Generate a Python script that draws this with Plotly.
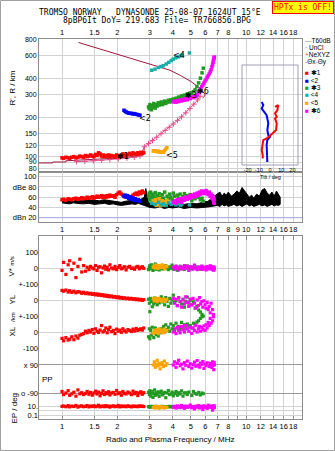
import numpy as np
import plotly.graph_objects as go

# ---------------- data ----------------
freq_ticks = [1, 1.5, 2, 3, 4, 5, 6, 7, 8, 9, 10, 12, 14, 16, 18]
freq_labels_top = ["1", "1.5", "2", "3", "4", "5", "6", "7", "8", "", "10", "12", "14", "16", "18"]
freq_labels_mid = ["1", "1.5", "2", "3", "4", "5", "6", "7", "8", "9", "10", "12", "14", "16", "18"]
height_ticks = [80, 90, 100, 120, 150, 200, 300, 400, 600, 800]
amp_ticks = [20, 40, 60, 80, 100]
amp_labels = ["dBn 20", "40", "60", "dBe 80", "100"]
tilt_ticks = [-20, -10, 0, 10, 20]

# profile lines (MHz, km)
prof_top_f = [1.23, 1.61, 2.0, 2.44, 2.9, 3.27, 3.86, 4.4, 5.0, 5.4, 5.74, 5.98, 5.95, 5.8]
prof_top_h = [755, 672, 615, 562, 520, 495, 461, 420, 378, 348, 323, 300, 290, 282]
prof_low_f = [0.75, 0.89, 0.89, 1.05, 1.05, 1.5, 2.0, 2.5, 2.77, 2.8]
prof_low_h = [88.5, 88.5, 90, 90, 92, 94, 96.5, 99.5, 102, 118]
nexyz_f = [1.20, 1.33, 1.48, 1.64, 1.82, 2.02, 2.25, 2.47, 2.65, 2.80, 2.95, 3.10, 3.27, 3.45,
           3.63, 3.82, 4.02, 4.24, 4.46, 4.70, 4.95, 5.20, 5.45, 5.62]
nexyz_h = [90.5, 91, 92, 93, 94, 95, 96.5, 98, 100, 118, 125, 132, 140, 149,
           158, 167, 177, 189, 201, 216, 233, 252, 272, 290]

# echo group 1 (red)
f_red = [1.00, 1.02, 1.05, 1.08, 1.10, 1.13, 1.16, 1.19, 1.22, 1.25, 1.28, 1.31, 1.34, 1.37, 1.40, 1.43,
         1.46, 1.49, 1.52, 1.55, 1.58, 1.61, 1.64, 1.67, 1.70, 1.73, 1.76, 1.79, 1.82, 1.86, 1.90, 1.94,
         1.98, 2.02, 2.06, 2.10, 2.14, 2.18, 2.23, 2.28, 2.33, 2.38, 2.43, 2.48, 2.53, 2.58, 2.63, 2.68,
         2.73, 2.78]
h_red = [97, 96, 98, 97, 96, 98, 99, 97, 98, 100, 99, 98, 101, 99, 100, 102, 100, 99, 103, 101,
         106, 104, 100, 102, 99, 101, 100, 102, 99, 101, 100, 98, 102, 100, 99, 101, 104, 102, 100, 103,
         105, 103, 106, 104, 103, 106, 104, 107, 105, 106]
amp_red = [55, 56, 54, 57, 56, 55, 57, 58, 56, 57, 59, 57, 58, 60, 58, 59, 61, 58, 60, 62,
           60, 61, 63, 59, 62, 60, 63, 61, 64, 62, 63, 60, 65, 68, 70, 66, 64, 61, 63, 62,
           60, 58, 64, 66, 68, 65, 70, 67, 72, 69]
v_red = [-15, 35, -40, 20, 45, -10, 30, -60, 10, 55, -25, 15,
         -20, 5, -10, 10, 0, -5, 15, -15, 5, 8, -30, 0, 12, -8, 5, -12, 20, 0, -5, 10,
         -10, 3, 15, -5, 0, 8, -12, 5, 10, -3, 0, -8, 6, 10, -5, 2, 8, -2]
yl_red = [60, 55, 62, 50, 58, 48, 55, 45, 52, 50, 42, 48, 40, 45, 38, 42, 35, 40, 32, 38,
          30, 35, 28, 33, 25, 30, 22, 28, 20, 25, 18, 22, 15, 20, 12, 16, 10, 14, 8, 12,
          6, 10, 4, 8, 2, 6, 0, 4, -2, 2]
xl_red = [-40, -55, -35, -50, -45, -30, -48, -25, -38, -20, -15, -10, 5, -5, 10, 0, 15, -8, 20, 5,
          -3, 12, 40, 0, 8, 25, -5, 15, 30, 2, 10, -10, 18, 5, 12, -2, 20, 8, 0, 15,
          10, 3, 18, 6, 22, 10, 15, 20, 12, 25]
pp_red = [-80, -100, -90, -75, -105, -95, -85, -110, -70, -95, -88, -100, -92, -80, -98, -86, -104, -90, -78, -96,
          -84, -108, -92, -76, -100, -88, -94, -82, -102, -90, -86, -98, -74, -94, -88, -104, -80, -92, -96, -84,
          -90, -100, -78, -94, -86, -106, -90, -82, -98, -88]
ep_red = [12, 15, 10, 18, 9, 14, 11, 20, 8, 13, 16, 10, 12, 19, 9, 14, 11, 17, 10, 13,
          22, 9, 12, 15, 10, 18, 11, 14, 8, 13, 16, 10, 12, 20, 9, 15, 11, 14, 10, 17,
          12, 9, 15, 11, 13, 10, 16, 12, 14, 11]

# echo group 2 (blue)
f_blue = [2.17, 2.20, 2.23, 2.26, 2.30, 2.34, 2.38, 2.42, 2.46, 2.50, 2.55, 2.60, 2.65]
h_blue = [226, 222, 219, 217, 215, 214, 214, 212, 213, 211, 210, 208, 207]
amp_blue = [62, 64, 60, 63, 58, 61, 56, 59, 54, 57, 53, 55, 52]

# echo group 3 (green)
f_green = [2.95, 2.98, 3.00, 3.03, 3.06, 3.09, 3.12, 3.15, 3.18, 3.21, 3.25, 3.29, 3.33, 3.37, 3.41, 3.46,
           3.51, 3.56, 3.61, 3.66, 3.72, 3.78, 3.84, 3.90, 3.96, 4.02, 4.09, 4.16, 4.23, 4.30, 4.38, 4.46,
           4.54, 4.62, 4.70, 4.79, 4.88, 4.97, 5.07, 5.17, 5.28, 5.40, 5.52, 5.64, 5.76, 5.85]
h_green = [240, 232, 250, 236, 228, 245, 238, 255, 242, 235, 250, 244, 258, 248, 252, 262, 250, 258, 266, 255,
           262, 270, 262, 272, 266, 276, 270, 280, 276, 286, 282, 292, 288, 296, 292, 302, 298, 308, 304, 315,
           325, 345, 368, 400, 440, 478]
amp_green = [62, 68, 55, 70, 60, 66, 52, 64, 58, 69, 56, 63, 50, 67, 60, 54, 65, 58, 70, 52,
             62, 57, 66, 60, 55, 68, 62, 50, 64, 58, 66, 54, 61, 67, 56, 63, 59, 65, 53, 62,
             57, 64, 60, 55, 58, 52]
v_green = [-10, 5, 15, -5, 20, 0, -15, 8, -3, 25, -8, 3, 12, -12, 6, 0, -6, 10, -4, 14,
           2, -10, 7, -2, 18, -7, 4, 9, -14, 1, 11, -5, 6, -9, 3, 13, -3, 8, -6, 2,
           10, -4, 5, -8, 0, 4]
yl_green = [5, -20, -73, 10, -10, -42, 0, -25, 12, -15, -5, -30, 8, -18, -2, 20, -12, 5, -30, 15,
            -8, -40, 10, -20, 0, 30, -15, -5, -35, 12, -10, -25, 5, -45, -8, 18, -20, -2, -30, -12,
            -50, -40, -62, -75, -90, -100]
xl_green = [-30, 20, -42, 10, -20, 30, -10, -35, 0, 25, -15, 5, -25, 15, -5, 20, 10, 35, 0, 45,
            15, 30, 5, 50, 20, 40, 10, 55, 25, 35, 15, 60, 30, 45, 20, 50, 35, 40, 25, 55,
            45, 62, 70, 85, 95, 104]
pp_green = [-85, -100, -75, -110, -92, -80, -118, -95, -70, -105, -88, -98, -82, -112, -90, -78, -102, -94, -86, -120,
            -90, -74, -100, -96, -84, -108, -92, -80, -104, -88, -96, -76, -110, -90, -88, -100, -84, 150, -106, -80,
            -92, -98, -86, -102, -90, -95]
ep_green = [10, 9, 11, 8, 12, 10, 9, 11, 10, 8, 12, 9, 10, 11, 9, 10, 12, 8, 10, 11,
            9, 10, 12, 9, 11, 10, 8, 11, 10, 9, 12, 10, 9, 11, 10, 8, 12, 10, 9, 11,
            10, 9, 12, 10, 11, 9]

# echo group 4 (teal)
f_teal = [3.07, 3.20, 3.34, 3.45, 3.55, 3.68, 3.80, 3.92, 4.02, 4.15, 4.28, 4.40, 4.47, 4.92]
h_teal = [461, 470, 484, 492, 500, 515, 530, 548, 562, 575, 585, 595, 603, 627]
amp_teal = [48, 46, 50, 45, 47, 44, 49, 46, 48, 45, 47, 44, 46, 45]

# echo group 5 (orange)
f_orange = [3.13, 3.17, 3.21, 3.25, 3.29, 3.33, 3.37, 3.41, 3.45, 3.50, 3.55, 3.60, 3.65, 3.71]
h_orange = [110, 109, 110, 109, 108, 109, 108, 108, 107, 107, 107, 110, 113, 116]
amp_orange = [52, 48, 55, 44, 50, 46, 57, 43, 49, 53, 45, 51, 47, 54]
v_orange = [5, 12, 0, 18, 8, -2, 15, 10, 3, 20, 6, -5, 12, 8]
yl_orange = [8, -5, 12, 0, -10, 5, 10, -3, 2, -8, 6, 0, -6, 4]
xl_orange = [-8, 10, -3, 15, 5, -10, 20, 0, 8, 12, -5, 18, 3, 10]
pp_orange = [90, 110, 75, 95, 120, 85, 100, 65, 92, 105, 80, 115, 88, 98]
ep_orange = [6, 9, 5, 12, 7, 10, 4, 8, 11, 6, 9, 5, 8, 7]

# echo group 6 (magenta)
f_mag = [4.02, 4.09, 4.16, 4.23, 4.30, 4.38, 4.46, 4.54, 4.62, 4.70, 4.79, 4.88, 4.97, 5.06, 5.15, 5.24,
         5.33, 5.42, 5.50, 5.58, 5.66, 5.74, 5.82, 5.90, 5.98, 6.06, 6.14, 6.22, 6.30, 6.38, 6.45, 6.52,
         6.57, 6.61, 6.64, 6.67, 6.70, 6.72]
h_mag = [262, 266, 261, 268, 264, 271, 267, 274, 270, 277, 273, 281, 278, 286, 283, 291, 288, 297, 313, 322,
         332, 344, 355, 367, 380, 392, 405, 418, 432, 448, 465, 490, 510, 530, 548, 562, 575, 583]
amp_mag = [50, 53, 48, 55, 52, 57, 50, 58, 54, 60, 56, 62, 58, 64, 60, 66, 62, 68, 64, 70,
           66, 72, 68, 71, 67, 73, 69, 65, 70, 62, 66, 58, 63, 55, 60, 50, 56, 48]
v_mag = [5, -8, 12, 0, -12, 8, 3, -5, 15, -2, 10, -15, 4, 7, -6, 18, 0, -10, 6, 2,
         -4, 12, -8, 5, 0, -12, 9, 3, -6, 14, -3, 8, -10, 4, 0, -14, 6, -5]
yl_mag = [10, -20, 5, -35, 15, -10, -45, 0, -25, 20, -15, -40, 5, -30, 10, -20, -50, 0, -35, 15,
          -25, -10, -45, -5, -30, -52, -15, -60, -40, -80, -20, -110, -60, -140, -90, -170, -120, -195]
xl_mag = [0, 20, -10, 30, 10, -5, 35, 15, 0, 40, 20, 5, 30, -8, 25, 10, 42, 0, 20, 35,
          5, 28, 15, 38, 10, 45, 25, 60, 40, 85, 55, 110, 70, 140, 95, 165, 120, 177]
pp_mag = [90, 110, 75, 100, 120, 85, 95, 65, 105, 88, 115, 80, 98, 70, 92, 108, 82, 118, 90, 76,
          102, 94, 112, 68, 96, 86, 104, 122, 80, 100, 90, 74, 110, 88, 96, 60, 106, 92]
ep_mag = [8, 12, 5, 15, 10, 6, 20, 9, 4, 14, 7, 11, 25, 6, 10, 3, 13, 8, 18, 5,
          9, 12, 2, 16, 7, 10, 4, 22, 8, 11, 6, 14, 1.5, 9, 12, 5, 17, 7]

# background amplitude envelope (dB)
f_env = [1.0, 1.05, 1.1, 1.15, 1.2, 1.3, 1.4, 1.5, 1.6, 1.7, 1.8, 1.9, 2.0, 2.1, 2.2, 2.3, 2.4, 2.5, 2.6, 2.7,
         2.8, 2.85, 2.9, 2.95, 3.0, 3.2, 3.4, 3.6, 3.8, 4.0, 4.3, 4.6, 5.0, 5.4, 5.8, 6.2, 6.6,
         7.0, 7.2, 7.4, 7.6, 7.8, 8.0, 8.3, 8.6, 8.9, 9.2, 9.5, 9.8, 10.1, 10.4, 10.7, 11.0, 11.4, 11.8,
         12.2, 12.6, 13.0, 13.4, 13.8, 14.2, 14.6, 15.0, 15.3]
env_up = [54, 53, 55, 52, 54, 53, 55, 54, 53, 55, 54, 53, 51, 50, 52, 53, 54, 55, 53, 56,
          60, 77, 62, 50, 48, 47, 49, 46, 48, 47, 49, 46, 48, 47, 50, 52, 60,
          66, 70, 62, 68, 64, 70, 62, 66, 72, 68, 79, 72, 66, 60, 64, 58, 66, 62, 74, 77,
          68, 64, 70, 62, 72, 66, 60]
env_low = [49, 48, 47, 49, 48, 47, 48, 46, 47, 48, 46, 47, 45, 44, 45, 46, 47, 46, 48, 45,
           44, 43, 42, 41, 40, 39, 41, 38, 40, 39, 41, 38, 40, 39, 40, 41, 42,
           44, 42, 46, 43, 45, 42, 44, 46, 43, 45, 42, 44, 47, 43, 45, 42, 44, 46, 43, 45,
           42, 44, 46, 43, 45, 44, 46]

# tilt inset (deg, km)
tilt_blue_deg = [-7.4, -6.0, -7.4, -5.4, -3.0, -2.4, -1.5, -2.4, -1.5, 0.0, -2.4, -3.0, -3.0, -2.4, -2.4]
tilt_blue_h = [262, 248, 233, 220, 207, 195, 179, 159, 145, 141, 133, 122, 111, 99, 90]
tilt_red_deg = [4.5, 7.4, 6.5, 4.5, 6.0, 4.5, 6.0, 5.4, 2.4, -1.5, -3.0, -6.0, -6.5, -7.4, -6.5, -6.5]
tilt_red_h = [240, 248, 226, 214, 201, 195, 179, 159, 150, 141, 137, 133, 122, 111, 102, 96]

# ---------------- style ----------------
W, H = 335, 451
FONT = "Liberation Sans"
MONO = "DejaVu Sans Mono"
GRID = "#d2d2d2"
FRAME = "#8c8c8c"
RED, BLUE, GREEN, TEAL, ORANGE, MAG = "#ff0000", "#0000ff", "#229922", "#1aacac", "#ffa500", "#ff00ff"
DARKRED, PINK = "#a0163c", "#e0508a"


def px(x):
    return x / W


def py(y):
    return 1 - y / H


xdom = [px(39), px(302)]
xr = [np.log10(0.75), np.log10(20.1)]
tf = dict(family=FONT, size=7.5, color="black")

fig = go.Figure()


def sc(**kw):
    kw.setdefault("showlegend", False)
    kw.setdefault("hoverinfo", "skip")
    fig.add_trace(go.Scatter(**kw))


# ionogram
sc(x=prof_top_f, y=prof_top_h, mode="lines", line=dict(color=DARKRED, width=1), xaxis="x", yaxis="y")
sc(x=prof_low_f, y=prof_low_h, mode="lines", line=dict(color=DARKRED, width=1), xaxis="x", yaxis="y")
sc(x=nexyz_f, y=nexyz_h, mode="lines+markers", line=dict(color=PINK, width=1),
   marker=dict(symbol="cross-thin", size=4, line=dict(color=PINK, width=1)), xaxis="x", yaxis="y")

groups = [(f_red, h_red, amp_red, RED), (f_blue, h_blue, amp_blue, BLUE),
          (f_green, h_green, amp_green, GREEN), (f_teal, h_teal, amp_teal, TEAL),
          (f_orange, h_orange, amp_orange, ORANGE), (f_mag, h_mag, amp_mag, MAG)]
for f, h, a, c in groups:
    sc(x=f, y=h, mode="markers", marker=dict(symbol="square", size=3.5, color=c, line=dict(width=0)),
       xaxis="x", yaxis="y")

# tilt inset
sc(x=tilt_blue_deg, y=tilt_blue_h, mode="lines", line=dict(color=BLUE, width=2), xaxis="x4", yaxis="y")
sc(x=tilt_red_deg, y=tilt_red_h, mode="lines", line=dict(color=RED, width=2), xaxis="x4", yaxis="y")

# amplitude panel
sc(x=f_env + f_env[::-1], y=env_up + env_low[::-1], mode="lines", fill="toself", fillcolor="black",
   line=dict(color="black", width=1), xaxis="x2", yaxis="y2")
for f, h, a, c in [groups[0], groups[1], groups[2], groups[4], groups[3], groups[5]]:
    sc(x=f, y=a, mode="markers", marker=dict(symbol="square", size=3.5, color=c, line=dict(width=0)),
       xaxis="x2", yaxis="y2")

# lower panel (empty trace registers the frame subplot so its x labels are drawn)
sc(x=[], y=[], mode="markers", xaxis="x3", yaxis="y3")
lower = [(f_red, v_red, yl_red, xl_red, pp_red, ep_red, RED),
         (f_green, v_green, yl_green, xl_green, pp_green, ep_green, GREEN),
         (f_orange, v_orange, yl_orange, xl_orange, pp_orange, ep_orange, ORANGE),
         (f_mag, v_mag, yl_mag, xl_mag, pp_mag, ep_mag, MAG)]
for f, v, yl, xl, pp, ep, c in lower:
    for vals, ax in [(v, "y4"), (yl, "y5"), (xl, "y6"), (pp, "y7"), (ep, "y8")]:
        sc(x=f, y=vals, mode="markers", cliponaxis=False,
           marker=dict(symbol="square", size=3.2, color=c, line=dict(width=0)), xaxis="x3", yaxis=ax)

# ---------------- axes ----------------
xcommon = dict(type="log", range=xr, domain=xdom, tickvals=freq_ticks, showgrid=True, gridcolor=GRID,
               zeroline=False, tickfont=tf, showline=True, linecolor=FRAME, linewidth=1,
               tickangle=0, automargin=False)
ycommon = dict(showgrid=True, gridcolor=GRID, zeroline=False, tickfont=tf, ticks="", automargin=False)

layout = dict(
    template="none",
    width=W, height=H, margin=dict(l=0, r=0, t=0, b=0, pad=0),
    paper_bgcolor="white", plot_bgcolor="rgba(0,0,0,0)", showlegend=False,
    xaxis=dict(xcommon, anchor="y", side="top", ticktext=freq_labels_top, ticks="", mirror=True),
    yaxis=dict(ycommon, type="log", domain=[py(172), py(39)], range=[1.877, 2.905], anchor="x",
               tickvals=height_ticks, ticktext=[str(t) for t in height_ticks],
               tickfont=dict(family=FONT, size=7, color="black"),
               showline=True, linecolor=FRAME, mirror=True),
    xaxis2=dict(xcommon, anchor="y2", side="bottom", ticktext=freq_labels_mid, ticks="", mirror=True),
    yaxis2=dict(ycommon, domain=[py(222), py(172)], range=[11.6, 109.2], anchor="x2",
                tickvals=amp_ticks, ticktext=amp_labels, showline=True, linecolor=FRAME, mirror=True),
    xaxis3=dict(xcommon, anchor="y3", side="bottom", ticktext=freq_labels_top, ticks="inside",
                ticklen=4, tickcolor=FRAME, mirror="ticks"),
    yaxis3=dict(domain=[py(419), py(236)], range=[0, 1], anchor="x3", showgrid=False, zeroline=False,
                showticklabels=False, ticks="", showline=True, linecolor=FRAME, mirror=True,
                automargin=False),
    xaxis4=dict(domain=[px(242), px(298)], range=[-25, 25], anchor="free", position=py(165),
                tickvals=tilt_ticks, ticktext=[str(t) for t in tilt_ticks], tickangle=0,
                tickfont=dict(family=FONT, size=5.5, color="black"), showgrid=False, zeroline=False,
                showline=False, ticks="", automargin=False),
    yaxis4=dict(ycommon, domain=[py(284), py(252)], range=[-100, 100], anchor="x3",
                tickvals=[100, 0], ticktext=["100", "0"]),
    yaxis5=dict(ycommon, domain=[py(316), py(284)], range=[-100, 100], anchor="x3",
                tickvals=[100, 0], ticktext=["+-100", "0"]),
    yaxis6=dict(ycommon, domain=[py(348), py(316)], range=[-100, 100], anchor="x3",
                tickvals=[100, 0, -100], ticktext=["+-100", "0", "-100"]),
    yaxis7=dict(ycommon, domain=[py(397.7), py(360.3)], range=[-120, 120], anchor="x3",
                tickvals=[90, -90], ticktext=["x 90", "o -90"], gridcolor="#9a9a9a"),
    yaxis8=dict(ycommon, type="log", domain=[py(416.25), py(404.2)], range=[-1.301, 1.602], anchor="x3",
                tickvals=[10, 1, 0.1], ticktext=["10.", "", "0.1"]),
)
fig.update_layout(**layout)

# ---------------- shapes ----------------
shapes = [
    dict(type="rect", xref="paper", yref="paper", x0=px(0.5), x1=px(334.5), y0=py(450.5), y1=py(0.5),
         line=dict(color="#a0a0a0", width=1)),
    dict(type="rect", xref="paper", yref="paper", x0=px(242), x1=px(298), y0=py(165), y1=py(65),
         line=dict(color="#a0a0b8", width=1)),
    dict(type="line", xref="x2 domain", yref="y2", x0=0, x1=1, y0=20, y1=20,
         line=dict(color="#a8a8e8", width=1)),
]
fig.update_layout(shapes=shapes)

# ---------------- annotations ----------------
ann = []


def note(x, y, text, size=8, family=FONT, angle=0, xanchor="center", color="black", **kw):
    ann.append(dict(x=px(x), y=py(y), xref="paper", yref="paper", text=text, showarrow=False,
                    textangle=angle, xanchor=xanchor, yanchor="middle",
                    font=dict(family=family, size=size, color=color), **kw))


note(150, 12, "TROMSO NORWAY   DYNASONDE 25-08-07 1624UT 15°E", size=8, family=MONO)
note(157, 20.5, "8pBP6It DoY= 219.683 File= TR766856.BPG", size=8, family=MONO)
note(302.5, 7.5, "HPTx is OFF!", size=8, family=MONO, color="red",
     bgcolor="#ffff00", bordercolor="red", borderwidth=1, borderpad=1)
note(12.5, 88, "R', R / km", size=8, angle=-90)
note(10.5, 267, "V* <span style='font-size:6px'>m/s</span>", size=8, angle=-90)
note(11.5, 300, "YL", size=8, angle=-90)
note(13, 317, "<span style='font-size:6px'>/km</span>", size=8, angle=-90)
note(11.5, 332, "XL", size=8, angle=-90)
note(47, 379, "PP", size=8)
note(13.5, 408, "EP / deg", size=8, angle=-90)
note(170, 439, "Radio and Plasma Frequency / MHz", size=8)
note(270, 176.5, "Tilt / deg", size=5.5)

# legend
leg = [("<span style='color:#909090'>—</span>T60dB", 40),
       ("<span style='color:#303030'>·</span> UnCl", 47.3),
       ("<span style='color:%s'>+</span>NeXYZ" % PINK, 54.3),
       ("<span style='color:%s'>-</span>Θx<span style='color:#8080ff'>-</span>Θy" % PINK, 62.3),
       ("<span style='color:%s'>■</span> ✱1" % RED, 72.3),
       ("<span style='color:%s'>■</span> <2" % BLUE, 80),
       ("<span style='color:%s'>■</span> ✱3" % GREEN, 87.3),
       ("<span style='color:%s'>■</span> <4" % TEAL, 94.7),
       ("<span style='color:%s'>■</span> <5" % ORANGE, 102.3),
       ("<span style='color:%s'>■</span> ✱6" % MAG, 110)]
for t, yy in leg:
    note(303, yy, t, size=6.5, xanchor="left")

# echo labels on ionogram
labels = [("✱1", f_red, h_red, 33, 0, 0), ("<2", f_blue, h_blue, 12, 0, -3),
          ("✱3", f_green, h_green, 34, 0, 0), ("<4", f_teal, h_teal, 12, -8, 0),
          ("<5", f_orange, h_orange, 13, 0, -8), ("✱6", f_mag, h_mag, 18, 0, 0)]
for t, fa, ha, i, xs, ys in labels:
    ann.append(dict(x=np.log10(fa[i]), y=np.log10(ha[i]), xref="x", yref="y", text=t, showarrow=False,
                    xanchor="left", yanchor="middle", xshift=xs - 3, yshift=ys,
                    font=dict(family="DejaVu Sans", size=8, color="black")))

fig.update_layout(annotations=ann)
fig.write_html("out.html")
